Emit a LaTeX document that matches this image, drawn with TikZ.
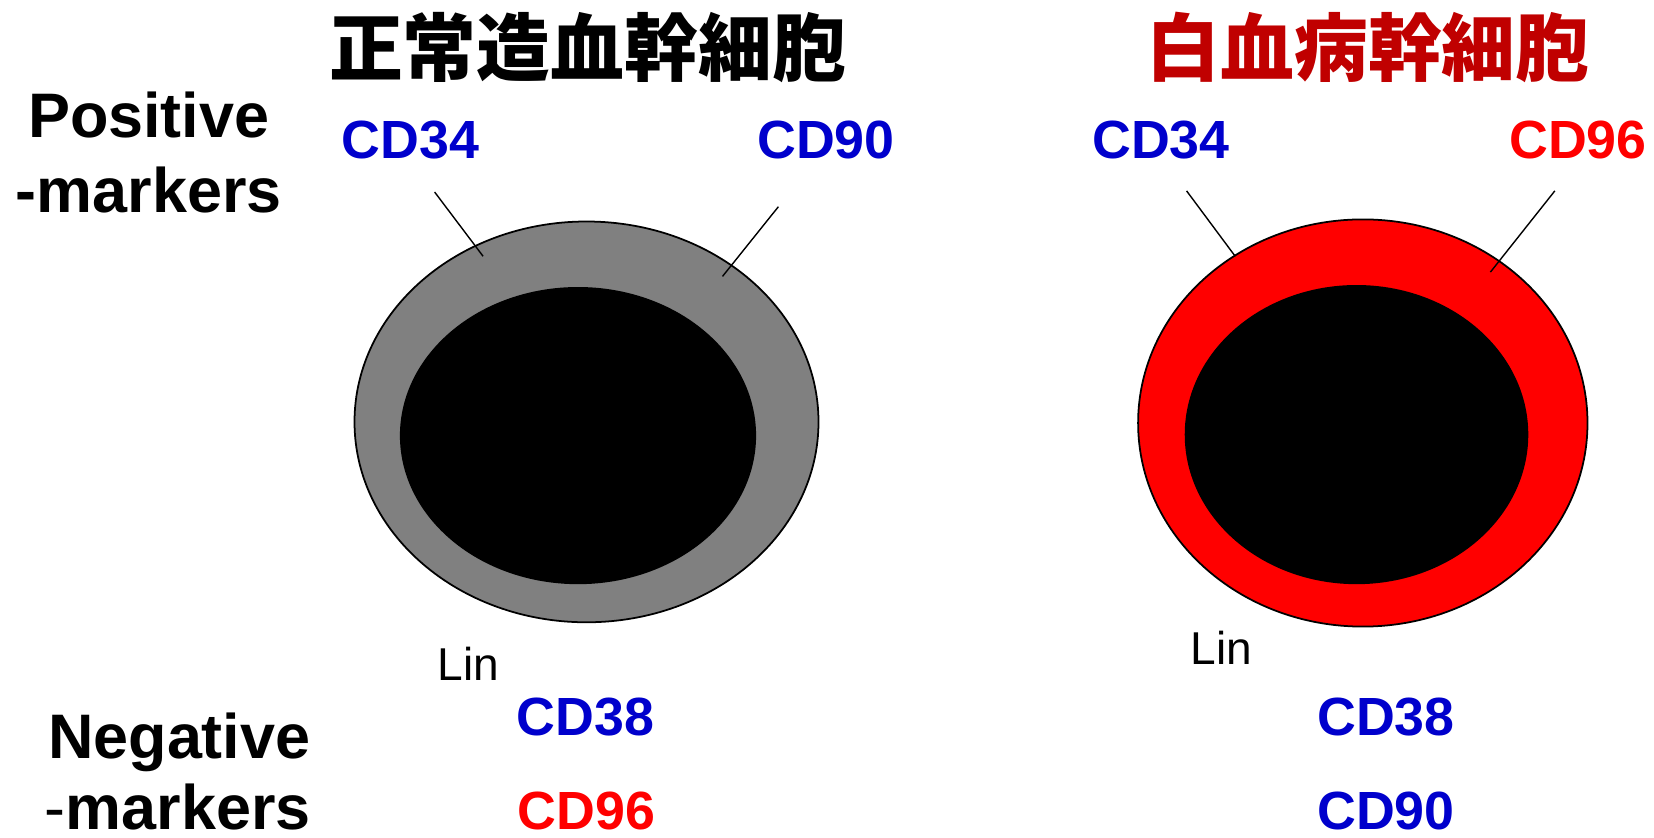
\documentclass[tikz,border=0pt]{standalone}
\usepackage{fontspec}
\setmainfont{Liberation Sans}
\newfontfamily\cjk{Noto Sans CJK JP}
\usepackage{tikz}
\usetikzlibrary{shapes.geometric}
\definecolor{markerblue}{RGB}{0,0,204}
\definecolor{titlered}{RGB}{192,0,0}
\definecolor{cellgray}{RGB}{128,128,128}

\begin{document}
\begin{tikzpicture}[
scale=1,
title/.style={font=\cjk\bfseries\fontsize{21}{24}\selectfont, inner sep=0},
side/.style={font=\bfseries\fontsize{17.9}{20}\selectfont, anchor=base, inner sep=0},
marker/.style={font=\bfseries\fontsize{15.3}{18}\selectfont, anchor=base, inner sep=0},
lin/.style={font=\fontsize{13.1}{15}\selectfont, anchor=base, inner sep=0},
cell/.style={ellipse, draw=black, line width=0.5pt, inner sep=0}
]
    \useasboundingbox (0,0) rectangle (16.54,-8.38);

    % Titles
    \node[title] (normtitle) at (5.875,-0.475) {正常造血幹細胞};
    \node[title, text=titlered] (leuktitle) at (13.68,-0.475) {白血病幹細胞};

    % Row labels
    \node[side] (pos1) at (1.487,-1.371) {Positive};
    \node[side] (pos2) at (1.487,-2.13) {-markers};
    \node[side] (neg1) at (1.793,-7.58) {Negative};
    \node[side] (neg2) at (1.777,-8.29) {{\mdseries -}markers};

    % Cells
    \node[cell, fill=cellgray, minimum width=4.64cm, minimum height=4.008cm] (normcell) at (5.865,-4.219) {};
    \node[cell, fill=black, minimum width=3.544cm, minimum height=2.954cm] (normcore) at (5.78,-4.356) {};
    \node[cell, fill=red, minimum width=4.494cm, minimum height=4.072cm] (leukcell) at (13.628,-4.23) {};
    \node[cell, fill=black, minimum width=3.418cm, minimum height=2.974cm] (leukcore) at (13.565,-4.346) {};

    % Positive markers
    \node[marker, text=markerblue] (nCD34) at (4.103,-1.582) {CD34};
    \node[marker, text=markerblue] (nCD90) at (8.26,-1.582) {CD90};
    \node[marker, text=markerblue] (lCD34) at (11.61,-1.582) {CD34};
    \node[marker, text=red] (lCD96) at (15.78,-1.582) {CD96};

    \draw
  	(4.346,-1.92) coordinate (nA)
  	(4.831,-2.563) coordinate (nA2)
  	(7.784,-2.067) coordinate (nB)
  	(7.225,-2.764) coordinate (nB2)
  	(11.866,-1.909) coordinate (lA)
  	(12.352,-2.563) coordinate (lA2)
  	(15.548,-1.909) coordinate (lB)
  	(14.904,-2.721) coordinate (lB2);

    \draw[thin] (nA) -- (nA2);
    \draw[thin] (nB) -- (nB2);
    \draw[thin] (lA) -- (lA2);
    \draw[thin] (lB) -- (lB2);

    % Negative markers
    \node[lin] (nLin) at (4.683,-6.803) {Lin};
    \node[lin] (lLin) at (12.215,-6.645) {Lin};
    \node[marker, text=markerblue] (nCD38) at (5.854,-7.352) {CD38};
    \node[marker, text=red] (nCD96) at (5.865,-8.29) {CD96};
    \node[marker, text=markerblue] (lCD38) at (13.86,-7.352) {CD38};
    \node[marker, text=markerblue] (lCD90) at (13.86,-8.29) {CD90};
\end{tikzpicture}
\end{document}
